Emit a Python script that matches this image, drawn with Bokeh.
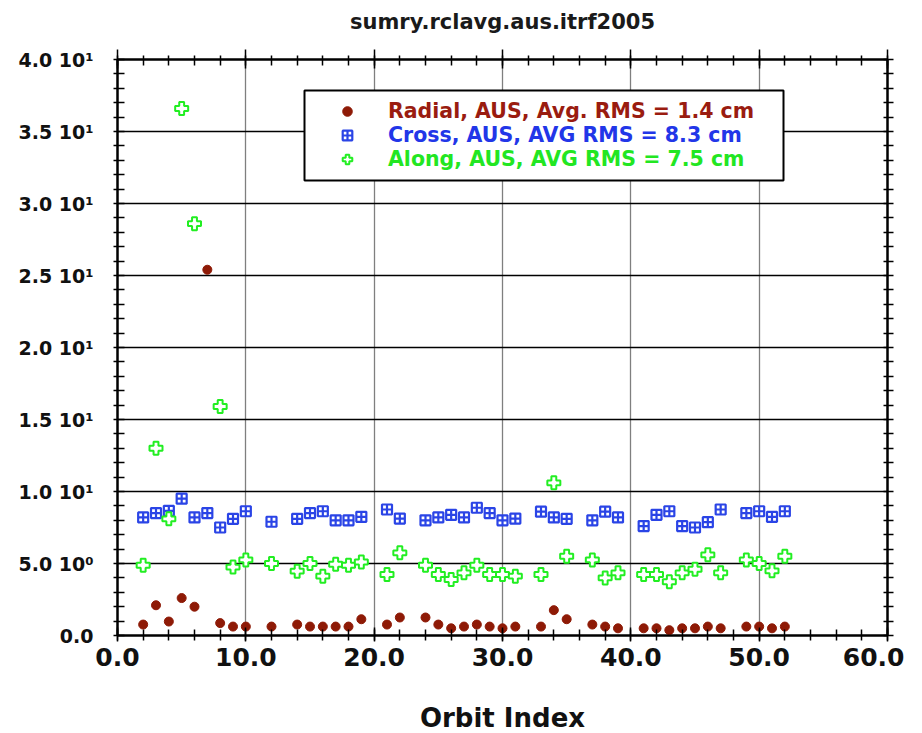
from bokeh.plotting import figure
from bokeh.models import (LinearAxis, SingleIntervalTicker, Legend, LegendItem, Range1d,
                          BoxAnnotation)
from bokeh.embed import file_html
from bokeh.resources import INLINE

# ---------------- data ----------------
title_text = "sumry.rclavg.aus.itrf2005"
x_label = "Orbit Index"

orbit = [2, 3, 4, 5, 6, 7, 8, 9, 10, 12, 14, 15, 16, 17, 18, 19, 21, 22, 24, 25, 26, 27,
         28, 29, 30, 31, 33, 34, 35, 37, 38, 39, 41, 42, 43, 44, 45, 46, 47, 49, 50, 51, 52]

radial = [0.76, 2.1, 0.97, 2.6, 2.0, 25.4, 0.86, 0.62, 0.62, 0.62, 0.76, 0.62, 0.62, 0.62,
          0.62, 1.13, 0.76, 1.25, 1.25, 0.76, 0.5, 0.62, 0.76, 0.62, 0.5, 0.62, 0.62, 1.76,
          1.13, 0.76, 0.62, 0.5, 0.5, 0.5, 0.37, 0.5, 0.5, 0.62, 0.5, 0.62, 0.62, 0.5, 0.62]

cross = [8.2, 8.5, 8.66, 9.5, 8.2, 8.5, 7.5, 8.1, 8.63, 7.9, 8.1, 8.5, 8.63, 8.0, 8.0, 8.24,
         8.75, 8.12, 8.0, 8.2, 8.38, 8.2, 8.87, 8.5, 8.0, 8.12, 8.6, 8.2, 8.1, 8.0, 8.6, 8.2,
         7.6, 8.38, 8.63, 7.6, 7.5, 7.87, 8.75, 8.5, 8.63, 8.24, 8.63]

along_orbit = [2, 3, 4, 5, 6, 8, 9, 10, 12, 14, 15, 16, 17, 18, 19, 21, 22, 24, 25, 26, 27,
               28, 29, 30, 31, 33, 34, 35, 37, 38, 39, 41, 42, 43, 44, 45, 46, 47, 49, 50, 51, 52]
along = [4.88, 13.0, 8.1, 36.6, 28.6, 15.9, 4.75, 5.25, 5.0, 4.47, 5.0, 4.12, 4.95, 4.88, 5.1,
         4.24, 5.74, 4.88, 4.24, 3.89, 4.35, 4.88, 4.24, 4.24, 4.12, 4.24, 10.6, 5.5, 5.25,
         4.0, 4.35, 4.24, 4.24, 3.73, 4.35, 4.6, 5.6, 4.35, 5.25, 5.0, 4.49, 5.5]

legend_labels = ["Radial, AUS, Avg. RMS = 1.4 cm",
                 "Cross, AUS, AVG RMS = 8.3 cm",
                 "Along, AUS, AVG RMS = 7.5 cm"]

xtick_values = [0, 10, 20, 30, 40, 50, 60]
xtick_labels = ["0.0", "10.0", "20.0", "30.0", "40.0", "50.0", "60.0"]
ytick_values = [0, 5, 10, 15, 20, 25, 30, 35, 40]
ytick_labels = ["0.0", "5.0 10\u2070", "1.0 10\u00b9", "1.5 10\u00b9", "2.0 10\u00b9",
                "2.5 10\u00b9", "3.0 10\u00b9", "3.5 10\u00b9", "4.0 10\u00b9"]

# ---------------- style ----------------
RED = "#8e1a06"
BLUE = "#2a44e6"
GREEN = "#22ee22"
RED_T = "#9a1c10"
BLUE_T = "#2236e8"
GREEN_T = "#22e622"
FONT = "DejaVu Sans"

p = figure(frame_width=770, frame_height=576,
           x_range=Range1d(0, 60), y_range=Range1d(0, 40),
           output_backend="svg", toolbar_location=None,
           min_border_left=117, min_border_right=17,
           min_border_top=59, min_border_bottom=98,
           title=title_text)
p.background_fill_color = "white"
p.border_fill_color = "white"
p.outline_line_color = "black"
p.outline_line_width = 2

p.title.text_font = FONT
p.title.text_font_style = "bold"
p.title.text_font_size = "21px"
p.title.text_color = "#1a1a1a"
p.title.align = "center"
p.title.standoff = 12

xt = SingleIntervalTicker(interval=10, num_minor_ticks=5)
yt = SingleIntervalTicker(interval=5, num_minor_ticks=5)

xb = p.xaxis[0]
xb.ticker = xt
xb.major_label_overrides = dict(zip(xtick_values, xtick_labels))
xb.major_label_text_font = FONT
xb.major_label_text_font_style = "bold"
xb.major_label_text_font_size = "25px"
xb.major_label_text_color = "#111111"
xb.major_label_standoff = 6
xb.major_tick_in = 8
xb.major_tick_out = 6
xb.minor_tick_in = 6
xb.minor_tick_out = 5
xb.axis_label = x_label
xb.axis_label_text_font = FONT
xb.axis_label_text_font_style = "bold"
xb.axis_label_text_font_size = "26px"
xb.axis_label_text_color = "#111111"
xb.axis_label_standoff = 34

yl = p.yaxis[0]
yl.ticker = yt
yl.major_label_overrides = dict(zip(ytick_values, ytick_labels))
yl.major_label_text_font = FONT
yl.major_label_text_font_style = "bold"
yl.major_label_text_font_size = "19px"
yl.major_label_text_color = "#111111"
yl.major_label_standoff = 20
yl.major_tick_in = 0
yl.major_tick_out = 0
yl.minor_tick_in = 7
yl.minor_tick_out = 4

blank_x = {v: "" for v in xtick_values}
blank_y = {v: "" for v in ytick_values}
xa = LinearAxis(ticker=xt, major_label_overrides=blank_x, major_label_text_font_size="1px",
                major_tick_in=9, major_tick_out=10, minor_tick_in=6, minor_tick_out=4,
                major_label_standoff=0)
yr = LinearAxis(ticker=yt, major_label_overrides=blank_y, major_label_text_font_size="1px",
                major_tick_in=0, major_tick_out=0, minor_tick_in=4, minor_tick_out=6,
                major_label_standoff=0)
p.add_layout(xa, "above")
p.add_layout(yr, "right")

for ax in (xb, yl, xa, yr):
    ax.axis_line_width = 2
    ax.axis_line_color = "black"
    ax.major_tick_line_width = 1.5
    ax.minor_tick_line_width = 1.5
    ax.major_tick_line_color = "black"
    ax.minor_tick_line_color = "black"

# invisible spacer between the top axis and the title
spacer = LinearAxis(ticker=xt, major_label_overrides=blank_x, major_label_text_font_size="1px",
                    major_tick_in=0, major_tick_out=10, minor_tick_in=0, minor_tick_out=0,
                    major_label_standoff=0, axis_line_color=None,
                    major_tick_line_color=None, minor_tick_line_color=None)
p.add_layout(spacer, "above")

p.ygrid.ticker = yt
p.xgrid.ticker = xt
p.ygrid.grid_line_color = "black"
p.ygrid.grid_line_width = 1.6
p.xgrid.grid_line_color = "black"
p.xgrid.grid_line_width = 1.3
p.xgrid.grid_line_dash = "1 1"

r_rad = p.scatter(orbit, radial, marker="circle", size=9, fill_color=RED, line_color=RED)
r_cross = p.scatter(orbit, cross, marker="square_cross", size=10, fill_color="white",
                    line_color=BLUE, line_width=2.2)
r_along = p.scatter(along_orbit, along, marker="plus", size=13, fill_color="white",
                    line_color=GREEN, line_width=2)

renderers = [r_rad, r_cross, r_along]
text_colors = [RED_T, BLUE_T, GREEN_T]

# legend frame (screen px relative to the plot frame)
BOX_L, BOX_R, BOX_B, BOX_T = 187, 666, 455, 545
box = BoxAnnotation(left=BOX_L, right=BOX_R, bottom=BOX_B, top=BOX_T,
                    left_units="screen", right_units="screen",
                    bottom_units="screen", top_units="screen",
                    fill_color="white", fill_alpha=1.0,
                    line_color="black", line_width=2, line_alpha=1.0)
p.add_layout(box)

ROW_H = 24
ROW_CENTERS = [524, 500, 476]
for lab, r, c, yc in zip(legend_labels, renderers, text_colors, ROW_CENTERS):
    lg = Legend(items=[LegendItem(label=lab, renderers=[r])],
                location=(BOX_L + 6, yc - ROW_H / 2), orientation="vertical",
                padding=0, spacing=0, margin=0,
                glyph_width=74, glyph_height=ROW_H, label_height=ROW_H,
                label_standoff=4,
                label_text_font=FONT, label_text_font_style="bold",
                label_text_font_size="20.5px", label_text_color=c,
                border_line_color=None, background_fill_alpha=0)
    p.add_layout(lg, "center")

open("out.html", "w").write(file_html(p, INLINE))
